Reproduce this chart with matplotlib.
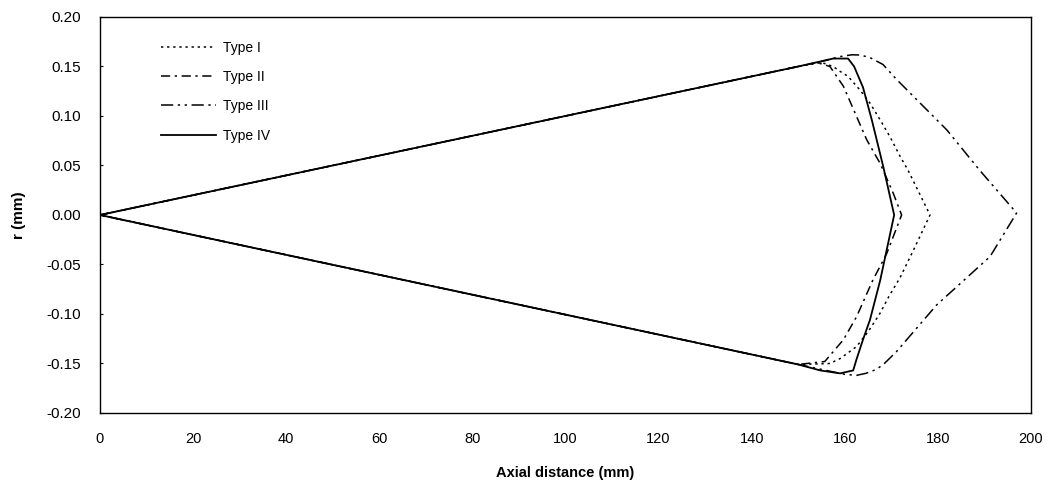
import matplotlib
matplotlib.use("Agg")
import matplotlib.pyplot as plt

plt.rcParams["font.family"] = ["Liberation Sans", "DejaVu Sans"]

# Profiles: origin -> upper edge -> tip -> lower edge -> origin
type1_x = [0, 150, 155, 157.5, 159, 160.7, 163.3, 165.4, 167.6, 169.7, 171.9, 173.6, 178.3,
           175, 171.9, 169.5, 167.6, 165, 162.5, 159, 156.8, 150, 0]
type1_y = [0, 0.150, 0.154, 0.150, 0.145, 0.140, 0.126, 0.113, 0.096, 0.079, 0.059, 0.045, 0.0,
           -0.033, -0.063, -0.082, -0.099, -0.118, -0.133, -0.145, -0.150, -0.151, 0]

type2_x = [0, 150, 154, 156.8, 159.7, 162.2, 164.7, 167.6, 170.4, 172.2,
           169, 166, 162.5, 159.7, 155.7, 150, 0]
type2_y = [0, 0.150, 0.154, 0.150, 0.130, 0.103, 0.076, 0.052, 0.022, 0.0,
           -0.039, -0.066, -0.103, -0.126, -0.148, -0.151, 0]

type3_x = [0, 150, 155, 159, 161.5, 163.3, 165.4, 168.2, 171.1, 181.9, 189.0, 196.9,
           191.2, 179.7, 171.1, 168.5, 166.8, 164.5, 162.5, 160, 155, 150, 0]
type3_y = [0, 0.150, 0.155, 0.160, 0.1618, 0.1616, 0.159, 0.152, 0.137, 0.086, 0.045, 0.002,
           -0.042, -0.091, -0.138, -0.150, -0.156, -0.160, -0.162, -0.161, -0.156, -0.151, 0]

type4_x = [0, 150, 154.7, 157.5, 160.7, 162, 163.9, 165.8, 168.3, 170.6,
           167.6, 165.4, 163.9, 162.5, 161.8, 159, 154.7, 150, 0]
type4_y = [0, 0.150, 0.155, 0.158, 0.158, 0.150, 0.129, 0.096, 0.048, 0.0,
           -0.066, -0.106, -0.126, -0.146, -0.157, -0.160, -0.157, -0.151, 0]

labels = ["Type I", "Type II", "Type III", "Type IV"]

fig = plt.figure(figsize=(10.51, 4.95), dpi=100)
ax = fig.add_axes([0.0951, 0.1657, 0.8859, 0.8])

ax.plot(type1_x, type1_y, color="black", lw=1.1, linestyle=(0, (1.5, 2.5)), label=labels[0])
ax.plot(type2_x, type2_y, color="black", lw=1.1, linestyle=(0, (6, 3, 1.5, 3)), label=labels[1])
ax.plot(type3_x, type3_y, color="black", lw=1.1, linestyle=(0, (8, 3, 1.5, 3, 1.5, 3)), label=labels[2])
ax.plot(type4_x, type4_y, color="black", lw=1.3, linestyle="-", label=labels[3])

ax.set_xlim(0, 200)
ax.set_ylim(-0.20, 0.20)
ax.set_xticks(range(0, 201, 20))
ax.set_yticks([-0.20, -0.15, -0.10, -0.05, 0.00, 0.05, 0.10, 0.15, 0.20])
ax.set_yticklabels([f"{v:.2f}" for v in ax.get_yticks()])
ax.tick_params(axis="x", length=0, pad=14, labelsize=10.5)
ax.tick_params(axis="y", direction="in", length=2, pad=14, labelsize=11)
for s in ax.spines.values():
    s.set_linewidth(1.0)
    s.set_color("black")

ax.set_xlabel("Axial distance (mm)", fontsize=10.5, fontweight="bold", labelpad=14)
ax.set_ylabel("r (mm)", fontsize=11, fontweight="bold", labelpad=14)

ax.legend(loc="upper left", bbox_to_anchor=(0.066, 0.94), frameon=False,
          fontsize=10, handlelength=3.9, handletextpad=0.5, labelspacing=1.1,
          borderpad=0, borderaxespad=0)

fig.savefig("out.png", dpi=100)
